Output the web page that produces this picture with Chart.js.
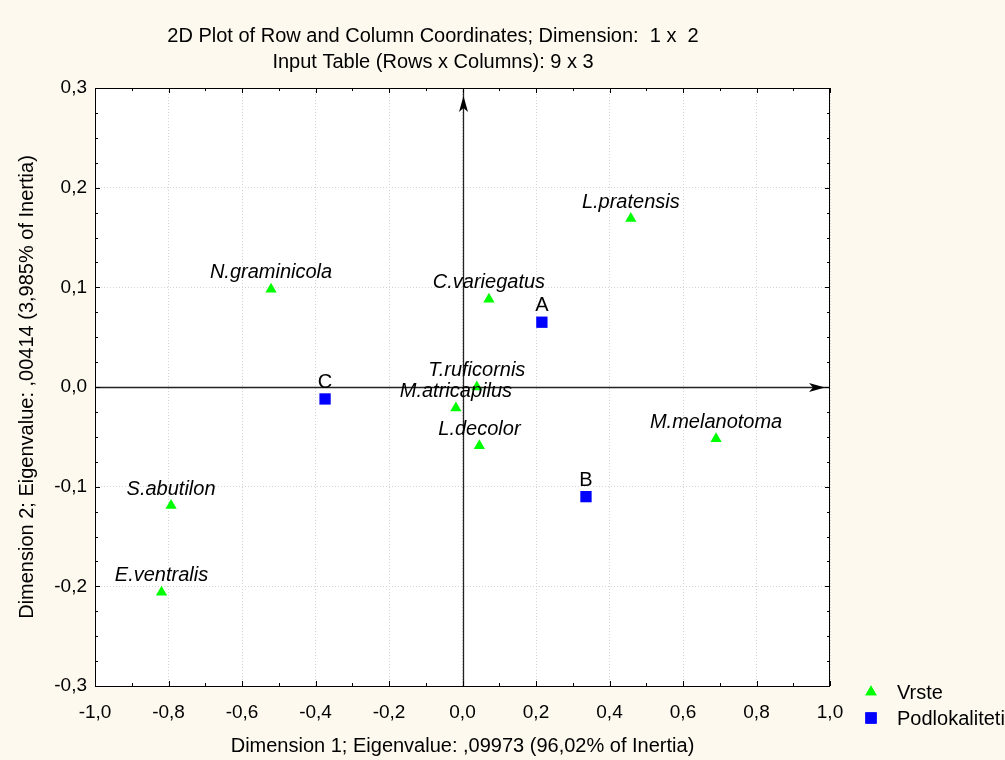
<!DOCTYPE html>
<html>
<head>
<meta charset="utf-8">
<script src="https://cdn.jsdelivr.net/npm/chart.js@4.4.0/dist/chart.umd.min.js"></script>
<style>
  html, body { margin: 0; padding: 0; background: #fdf9ee; }
  #wrap { width: 1005px; height: 760px; }
</style>
</head>
<body>
<div id="wrap"><canvas id="chart" width="1005" height="760"></canvas></div>
<script>
// species (rows)
const vrsteNames = ['L.pratensis', 'N.graminicola', 'C.variegatus', 'T.ruficornis', 'M.atricapilus',
  'L.decolor', 'M.melanotoma', 'S.abutilon', 'E.ventralis'];
const vrsteX = [0.458, -0.521, 0.072, 0.039, -0.018, 0.046, 0.690, -0.793, -0.819];
const vrsteY = [0.169, 0.098, 0.088, 0.000, -0.021, -0.059, -0.052, -0.119, -0.206];

// sub-localities (columns)
const podNames = ['A', 'B', 'C'];
const podX = [0.216, 0.336, -0.374];
const podY = [0.065, -0.110, -0.012];

const titleLines = ['2D Plot of Row and Column Coordinates; Dimension:  1 x  2', 'Input Table (Rows x Columns): 9 x 3'];
const xTitle = 'Dimension 1; Eigenvalue: ,09973 (96,02% of Inertia)';
const yTitle = 'Dimension 2; Eigenvalue: ,00414 (3,985% of Inertia)';

const FONT = '"Liberation Sans", Arial, sans-serif';
const fmt = v => (Math.round(v * 10) / 10).toFixed(1).replace('.', ',');

const pts = (xs, ys) => xs.map((x, i) => ({ x: x, y: ys[i] }));

const decor = {
  id: 'decor',
  beforeDraw(chart) {
    const { ctx, chartArea: a } = chart;
    ctx.save();
    ctx.fillStyle = '#fdf9ee';
    ctx.fillRect(0, 0, chart.width, chart.height);
    ctx.fillStyle = '#ffffff';
    ctx.fillRect(a.left, a.top, a.right - a.left, a.bottom - a.top);
    ctx.restore();
  },
  afterDraw(chart) {
    const { ctx, chartArea: a, scales } = chart;
    const xs = scales.x, ys = scales.y;
    ctx.save();
    // frame
    ctx.strokeStyle = '#000';
    ctx.lineWidth = 1;
    ctx.strokeRect(a.left + 0.5, a.top + 0.5, a.right - a.left - 1, a.bottom - a.top);

    // inner ticks
    ctx.beginPath();
    for (let v = -10; v <= 10; v++) {
      const px = Math.round(xs.getPixelForValue(v / 10)) + 0.5;
      const len = v % 2 === 0 ? 5 : 3;
      ctx.moveTo(px, a.bottom); ctx.lineTo(px, a.bottom - len);
      ctx.moveTo(px, a.top); ctx.lineTo(px, a.top + len);
    }
    for (let v = -12; v <= 12; v++) {
      const py = Math.round(ys.getPixelForValue(v / 40)) + 0.5;
      const len = v % 4 === 0 ? 5 : 3;
      ctx.moveTo(a.left, py); ctx.lineTo(a.left + len, py);
      ctx.moveTo(a.right, py); ctx.lineTo(a.right - len, py);
    }
    ctx.stroke();

    // titles
    ctx.fillStyle = '#000';
    ctx.font = '20px ' + FONT;
    ctx.textAlign = 'center';
    ctx.textBaseline = 'middle';
    ctx.fillText(titleLines[0], 433, 36);
    ctx.fillText(titleLines[1], 433, 62);

    // legend
    const legend = [
      { text: 'Vrste', ds: 0 },
      { text: 'Podlokaliteti', ds: 1 }
    ];
    legend.forEach((item, i) => {
      const d = chart.data.datasets[item.ds];
      const y = 692 + i * 26;
      ctx.fillStyle = d.backgroundColor;
      Chart.helpers.drawPoint(ctx, { pointStyle: d.pointStyle, radius: d.pointRadius, rotation: 0, borderWidth: 0 }, 871, y);
      ctx.fill();
      ctx.fillStyle = '#000';
      ctx.textAlign = 'left';
      ctx.fillText(item.text, 897, y + 1);
    });
    ctx.restore();
  },
  beforeDatasetsDraw(chart) {
    const { ctx, chartArea: a, scales } = chart;
    const x0 = Math.round(scales.x.getPixelForValue(0)) + 0.5;
    const y0 = Math.round(scales.y.getPixelForValue(0)) + 0.5;
    ctx.save();
    ctx.strokeStyle = '#222';
    ctx.fillStyle = '#000';
    ctx.lineWidth = 1.3;
    ctx.beginPath();
    ctx.moveTo(x0, a.bottom); ctx.lineTo(x0, a.top);
    ctx.moveTo(a.left, y0); ctx.lineTo(a.right, y0);
    ctx.stroke();
    // arrow heads
    const tipY = a.top + 8, tipX = a.right - 5;
    ctx.beginPath();
    ctx.moveTo(x0, tipY);
    ctx.lineTo(x0 + 4.5, tipY + 16);
    ctx.lineTo(x0, tipY + 12);
    ctx.lineTo(x0 - 4.5, tipY + 16);
    ctx.closePath();
    ctx.fill();
    ctx.beginPath();
    ctx.moveTo(tipX, y0);
    ctx.lineTo(tipX - 16, y0 - 4.5);
    ctx.lineTo(tipX - 12, y0);
    ctx.lineTo(tipX - 16, y0 + 4.5);
    ctx.closePath();
    ctx.fill();
    ctx.restore();
  },
  afterDatasetsDraw(chart) {
    const { ctx } = chart;
    ctx.save();
    ctx.fillStyle = '#000';
    ctx.textAlign = 'center';
    ctx.textBaseline = 'alphabetic';
    const sets = [
      { names: vrsteNames, italic: true },
      { names: podNames, italic: false }
    ];
    sets.forEach((s, di) => {
      const meta = chart.getDatasetMeta(di);
      ctx.font = (s.italic ? 'italic ' : '') + '20px ' + FONT;
      meta.data.forEach((el, i) => {
        ctx.fillText(s.names[i], el.x, el.y - 11);
      });
    });
    ctx.restore();
  }
};

new Chart(document.getElementById('chart'), {
  type: 'scatter',
  data: {
    datasets: [
      {
        label: 'Vrste',
        data: pts(vrsteX, vrsteY),
        pointStyle: 'triangle',
        pointRadius: 6.5,
        pointHoverRadius: 6.5,
        backgroundColor: '#00ff00',
        borderWidth: 0
      },
      {
        label: 'Podlokaliteti',
        data: pts(podX, podY),
        pointStyle: 'rect',
        pointRadius: 8,
        pointHoverRadius: 8,
        backgroundColor: '#0000ff',
        borderWidth: 0
      }
    ]
  },
  options: {
    responsive: false,
    animation: false,
    layout: { padding: { left: 0, right: 175, top: 88, bottom: 0 } },
    plugins: {
      legend: { display: false },
      tooltip: { enabled: false }
    },
    scales: {
      x: {
        type: 'linear',
        min: -1,
        max: 1,
        afterFit: s => { s.height = 74; },
        ticks: {
          stepSize: 0.2,
          padding: 15,
          color: '#000',
          font: { family: FONT, size: 19 },
          callback: v => fmt(v)
        },
        grid: { color: '#d4d4d4', drawTicks: false, tickLength: 0 },
        border: { display: false, dash: [1, 2] },
        title: {
          display: true,
          text: xTitle,
          color: '#000',
          font: { family: FONT, size: 20 },
          padding: { top: 0, bottom: 2 }
        }
      },
      y: {
        type: 'linear',
        min: -0.3,
        max: 0.3,
        afterFit: s => { s.width = 95; },
        ticks: {
          stepSize: 0.1,
          padding: 8,
          color: '#000',
          font: { family: FONT, size: 19 },
          callback: v => fmt(v)
        },
        grid: { color: '#d4d4d4', drawTicks: false, tickLength: 0 },
        border: { display: false, dash: [1, 2] },
        title: {
          display: true,
          text: yTitle,
          color: '#000',
          font: { family: FONT, size: 20 },
          padding: { top: 15, bottom: 0 }
        }
      }
    }
  },
  plugins: [decor]
});
</script>
</body>
</html>
